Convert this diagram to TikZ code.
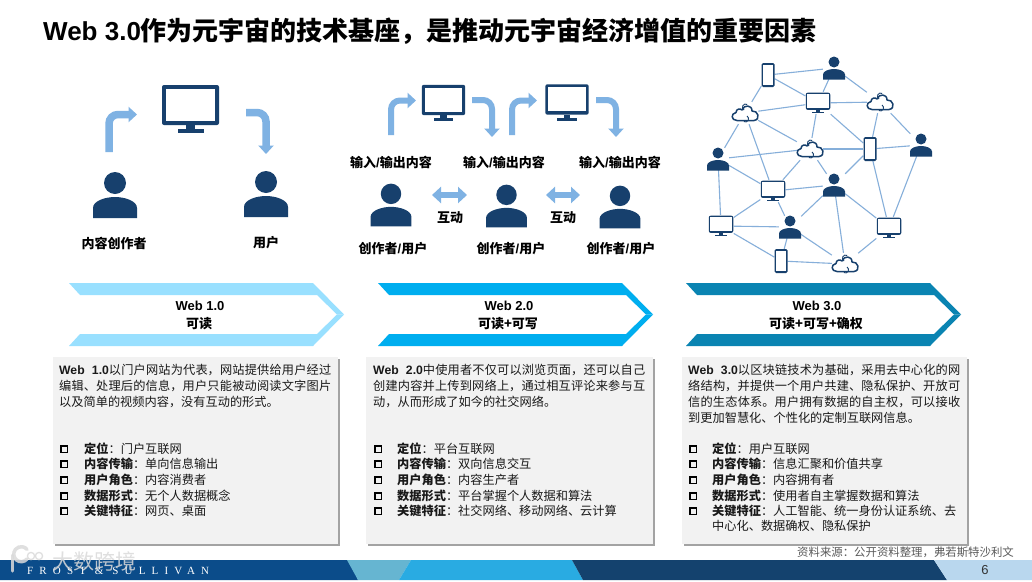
\documentclass[tikz,border=0pt]{standalone}
\usepackage{fontspec}
\setmainfont{Noto Sans CJK SC}
\newfontfamily\latf{Liberation Sans}
\newfontfamily\serf[LetterSpace=56]{Liberation Serif}
\usetikzlibrary{arrows.meta,shadows}
\XeTeXlinebreaklocale "zh"
\XeTeXlinebreakskip=0pt plus 1.2pt
\newcommand{\lat}[1]{{\latf #1}}
\newcommand{\fsz}[1]{\fontsize{#1pt}{#1pt}\selectfont}
\definecolor{navy}{HTML}{17406D}
\definecolor{lblue}{HTML}{7FB2E3}
\definecolor{linec}{HTML}{86AFDA}
\definecolor{boxg}{HTML}{F2F2F2}
\definecolor{barA}{HTML}{0B4C8A}
\definecolor{barB}{HTML}{66B5D1}
\definecolor{barC}{HTML}{29ABE2}
\definecolor{barD}{HTML}{14426E}
\definecolor{barE}{HTML}{B9D7EE}
\definecolor{wmark}{HTML}{DADADA}
\tikzset{
 elbow/.style={draw=lblue,line width=#1,rounded corners=9pt,-{Triangle[length=8.5pt,width=15pt,fill=lblue]}},
 elbow/.default=7.5pt,
 dblarrow/.style={draw=lblue,line width=6pt,{Triangle[length=9pt,width=16pt,fill=lblue]}-{Triangle[length=9pt,width=16pt,fill=lblue]}},
 lbl/.style={font=\fsz{13}\bfseries,text=black,inner sep=0pt},
 para/.style={font=\fsz{12.2},text width=272pt,align=justify,inner sep=0pt,anchor=north west,text=black!90},
 chk/.style={draw=black,line width=1.5pt,minimum size=6.5pt,inner sep=0pt},
 bultxt/.style={font=\fsz{12.2},anchor=west,inner sep=0pt,text=black!90},
 infobox/.style={fill=boxg,minimum width=285pt,minimum height=187pt,anchor=north west,inner sep=0pt,drop shadow={shadow xshift=1.6pt,shadow yshift=-1.6pt,fill=black!60,opacity=.6}},
 netbox/.style={inner sep=0pt,minimum width=#1},
 netline/.style={draw=linec,line width=1.1pt},
 pics/person/.style={code={
  \fill[navy] (0,-12) circle (11);
  \fill[navy] (-22,23) -- (-22,13) .. controls (-22,6) and (-10,2) .. (0,2) .. controls (10,2) and (22,6) .. (22,13) -- (22,23) -- cycle;
 }},
 pics/monitor/.style={code={
  \fill[navy,rounded corners=2pt] (-28.5,-24) rectangle (28.5,16);
  \fill[white] (-24.5,-20) rectangle (24.5,11.5);
  \fill[navy] (-4.5,16) rectangle (4.5,20);
  \fill[navy] (-13,20) rectangle (13,24);
 }},
 pics/phone/.style={code={
  \fill[navy,rounded corners=1.5pt] (-6.5,-12) rectangle (6.5,12);
  \fill[white] (-5.2,-9.8) rectangle (5.2,9.8);
 }},
 pics/cloud/.style={code={
  \draw[navy,line width=1.5pt,fill=white,line join=round]
   (-8,7.5) .. controls (-14,7.5) and (-14.5,0.5) .. (-9,-0.5)
   .. controls (-9,-4) and (-5,-5) .. (-3,-3)
   .. controls (-1,-8.5) and (7,-8.5) .. (7,-2)
   .. controls (13,-3) and (16,6.5) .. (9,7.5) -- cycle;
  \draw[navy,line width=.9pt] (-1,-3) arc[start angle=120,end angle=300,radius=3.2];
  \draw[navy,line width=.9pt] (2,3) arc[start angle=-60,end angle=120,radius=3.2];
 }},
}
\newcommand{\bul}[6]{% name, xbox, xtext, y, bold, rest
 \node[chk] (#1c) at (#2,#4) {};
 \node[bultxt] (#1t) at (#3,#4) {\textbf{#5}：#6};
}
\begin{document}
\begin{tikzpicture}[x=1pt,y=-1pt]
\useasboundingbox (0,0) rectangle (1032,581);
\fill[white] (0,0) rectangle (1032,581);
% title
\node[anchor=west,inner sep=0pt,font=\fsz{26}\bfseries] (title) at (43,31) {\lat{\textbf{Web 3.0}}作为元宇宙的技术基座，是推动元宇宙经济增值的重要因素};

% ---- Web 1.0 icons
\pic at (115,195) {person};
\pic at (266,194) {person};
\pic at (190.5,109) {monitor};
\coordinate (a1s) at (109,152); \coordinate (a1e) at (137,114.5);
\coordinate (a2s) at (246,112.5); \coordinate (a2e) at (266,154);
\draw[elbow] (a1s) |- (a1e);
\draw[elbow] (a2s) -| (a2e);
\node[lbl] (l1) at (114,243) {内容创作者};
\node[lbl] (l2) at (266,243) {用户};

% ---- Web 2.0 icons
\pic[scale=.76] at (443.5,103) {monitor};
\pic[scale=.76] at (567,102.5) {monitor};
\pic[scale=.93] at (391,205) {person};
\pic[scale=.93] at (506.5,206) {person};
\pic[scale=.93] at (620,207) {person};
\coordinate (b1s) at (391,135); \coordinate (b1e) at (416,100.5);
\coordinate (b2s) at (472,100); \coordinate (b2e) at (492,137);
\coordinate (b3s) at (512,135); \coordinate (b3e) at (537,100.5);
\coordinate (b4s) at (596,100); \coordinate (b4e) at (616,137);
\draw[elbow=6pt] (b1s) |- (b1e);
\draw[elbow=6pt] (b2s) -| (b2e);
\draw[elbow=6pt] (b3s) |- (b3e);
\draw[elbow=6pt] (b4s) -| (b4e);
\coordinate (d1a) at (432,195); \coordinate (d1b) at (467,195);
\coordinate (d2a) at (546,195); \coordinate (d2b) at (580,195);
\draw[dblarrow] (d1a) -- (d1b);
\draw[dblarrow] (d2a) -- (d2b);
\node[lbl] (io1) at (391,162) {输入\lat{\textbf{/}}输出内容};
\node[lbl] (io2) at (504,162) {输入\lat{\textbf{/}}输出内容};
\node[lbl] (io3) at (620,162) {输入\lat{\textbf{/}}输出内容};
\node[lbl] (hd1) at (450,218) {互动};
\node[lbl] (hd2) at (563,218) {互动};
\node[lbl] (cu1) at (393,249) {创作者\lat{\textbf{/}}用户};
\node[lbl] (cu2) at (511,249) {创作者\lat{\textbf{/}}用户};
\node[lbl] (cu3) at (621,249) {创作者\lat{\textbf{/}}用户};

% ---- Web 3.0 network
\foreach \n/\x/\y/\w in {p1/768/75/13,u1/834/68/22,m1/818/103/25,c1/880/102/26,c2/745/113/26,c3/810/149/26,p2/870/149/13,u2/921/145/22,u3/718/159/22,m2/773/191/25,u4/834/185/22,m3/721/226/25,u5/790/227/22,m4/889/228/25,p3/781/261/13,c4/845/264/26}
 \node[netbox=\w pt,minimum height=22pt] (\n) at (\x,\y) {};
\foreach \a/\b in {p1/u1,p1/m1,p1/c2,u1/m1,u1/c1,m1/c1,m1/c2,m1/c3,m1/p2,c1/p2,c1/u2,c2/u3,c2/m2,c2/c3,c3/u3,c3/p2,c3/m2,c3/u4,p2/u2,p2/u4,p2/m4,u2/m4,u3/m2,u3/m3,m2/u4,m2/m3,m2/u5,u4/u5,u4/c4,u4/m4,m3/u5,m3/p3,u5/p3,u5/c4,p3/c4,c4/m4}
 \draw[netline] (\a) -- (\b);
\foreach \n in {p1,p2,p3} \pic at (\n) {phone};
\foreach \n in {u1,u2,u3,u4,u5} \pic[scale=.5] at (\n) {person};
\foreach \n in {m1,m2,m3,m4} \pic[scale=.43] at (\n) {monitor};
\foreach \n in {c1,c2,c3,c4} \pic at (\n) {cloud};

% ---- chevron banners
\foreach \x/\c/\t/\s/\n in {69/99E0FF/Web 1.0/可读/ba,378/00AEEF/Web 2.0/可读+可写/bb,686/0A84B2/Web 3.0/可读+可写+确权/bc}{
 \definecolor{cc}{HTML}{\c}
 \fill[cc] (\x,283) -- (\x+244,283) -- (\x+275,314.5) -- (\x+268,314.5) -- (\x+248,295) -- (\x+11,295) -- cycle;
 \fill[cc] (\x,346) -- (\x+244,346) -- (\x+275,314.5) -- (\x+268,314.5) -- (\x+248,334) -- (\x+11,334) -- cycle;
 \node[inner sep=0pt,font=\fsz{13}\latf\bfseries] (\n1) at (\x+131,306) {\t};
 \node[inner sep=0pt,font=\fsz{13}\bfseries] (\n2) at (\x+130,324) {\s};
}

% ---- info boxes
\node[infobox] (box1) at (53,357) {};
\node[infobox,minimum width=287pt] (box2) at (366,357) {};
\node[infobox] (box3) at (682,357) {};

\node[para] (t1) at (59,364) {\baselineskip=16pt \lat{\textbf{Web\ \ 1.0}}以门户网站为代表，网站提供给用户经过编辑、处理后的信息，用户只能被动阅读文字图片以及简单的视频内容，没有互动的形式。\par};
\node[para] (t2) at (373,364) {\baselineskip=16pt \lat{\textbf{Web\ \ 2.0}}中使用者不仅可以浏览页面，还可以自己创建内容并上传到网络上，通过相互评论来参与互动，从而形成了如今的社交网络。\par};
\node[para] (t3) at (688,364) {\baselineskip=16pt \lat{\textbf{Web\ \ 3.0}}以区块链技术为基础，采用去中心化的网络结构，并提供一个用户共建、隐私保护、开放可信的生态体系。用户拥有数据的自主权，可以接收到更加智慧化、个性化的定制互联网信息。\par};

\bul{a1}{64}{84}{449}{定位}{门户互联网}
\bul{a2}{64}{84}{464}{内容传输}{单向信息输出}
\bul{a3}{64}{84}{480}{用户角色}{内容消费者}
\bul{a4}{64}{84}{496}{数据形式}{无个人数据概念}
\bul{a5}{64}{84}{511}{关键特征}{网页、桌面}
\bul{b1}{378}{397}{449}{定位}{平台互联网}
\bul{b2}{378}{397}{464}{内容传输}{双向信息交互}
\bul{b3}{378}{397}{480}{用户角色}{内容生产者}
\bul{b4}{378}{397}{496}{数据形式}{平台掌握个人数据和算法}
\bul{b5}{378}{397}{511}{关键特征}{社交网络、移动网络、云计算}
\bul{c1x}{693}{712}{449}{定位}{用户互联网}
\bul{c2x}{693}{712}{464}{内容传输}{信息汇聚和价值共享}
\bul{c3x}{693}{712}{480}{用户角色}{内容拥有者}
\bul{c4x}{693}{712}{496}{数据形式}{使用者自主掌握数据和算法}
\bul{c5x}{693}{712}{511}{关键特征}{人工智能、统一身份认证系统、去}
\node[bultxt] (c6t) at (712,526) {中心化、数据确权、隐私保护};

% ---- footer
\fill[barA] (0,560) -- (349,560) -- (358,580) -- (0,580) -- cycle;
\fill[barB] (347,560) -- (411,560) -- (399,580) -- (358,580) -- cycle;
\fill[barC] (411,560) -- (572,560) -- (583,580) -- (399,580) -- cycle;
\fill[barD] (572,560) -- (934,560) -- (947,580) -- (583,580) -- cycle;
\fill[barE] (934,560) -- (1032,560) -- (1032,580) -- (947,580) -- cycle;
\node[inner sep=0pt,anchor=west,text=white,font=\fsz{11}\serf] (fs) at (27,570.5) {FROST \& SULLIVAN};
\node[inner sep=0pt,text=black!80,font=\fsz{13}\latf] (pg) at (985,570) {6};
\node[inner sep=0pt,anchor=east,text=black!65,font=\fsz{11.4}] (src) at (1014,552) {资料来源：公开资料整理，弗若斯特沙利文};
% watermark
\node[inner sep=0pt,anchor=west,text=wmark,opacity=.85,font=\fsz{21}] (wm) at (52,561) {大数跨境};
\begin{scope}[draw=wmark,opacity=.85,line cap=round]
 \draw[line width=3pt] (12,555) -- (12,571);
 \draw[line width=3.5pt] (27,559) arc[start angle=40,end angle=320,radius=7.5];
 \draw[line width=1.3pt] (31,556) circle (3.6);
 \draw[line width=1.3pt] (39,556) circle (3.6);
\end{scope}
\end{tikzpicture}
\end{document}
